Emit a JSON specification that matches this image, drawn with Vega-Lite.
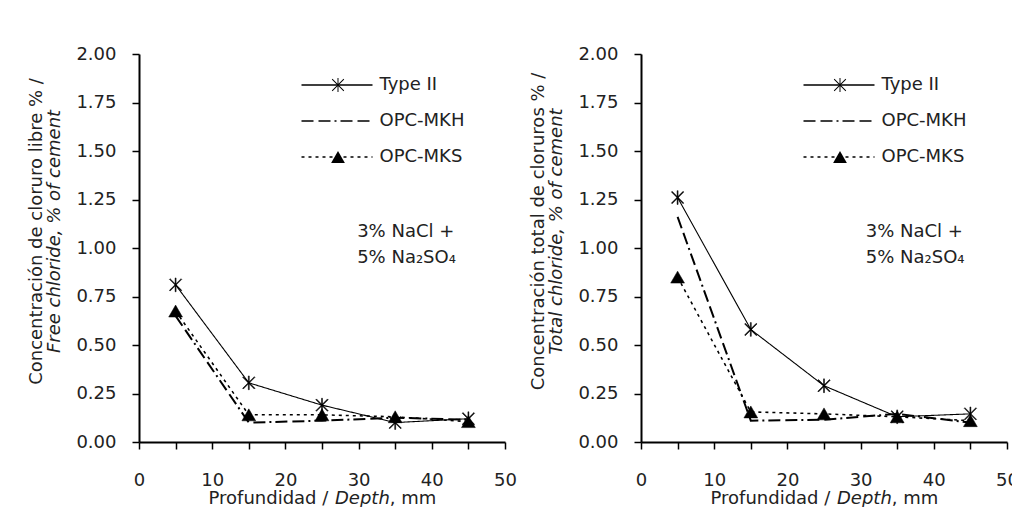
{
  "$schema": "https://vega.github.io/schema/vega-lite/v6.json",
  "autosize": {"type": "pad"},
  "padding": {"left": 26, "top": 45, "right": 0, "bottom": 0},
  "spacing": 11,
  "background": "white",
  "config": {
    "font": "DejaVu Sans",
    "view": {"stroke": null},
    "axis": {
      "grid": false,
      "domainColor": "black",
      "domainWidth": 2,
      "tickColor": "black",
      "tickWidth": 1.5,
      "tickSize": 7,
      "labelFont": "DejaVu Sans",
      "labelFontSize": 18,
      "labelColor": "#222",
      "titleFont": "DejaVu Sans",
      "titleFontSize": 18,
      "titleColor": "#222",
      "titleFontWeight": "normal"
    },
    "legend": {"labelFont": "DejaVu Sans", "labelFontSize": 18, "labelColor": "#222"}
  },
  "datasets": {
    "free": [
      {"series": "Type II", "depth": 5, "value": 0.81},
      {"series": "Type II", "depth": 15, "value": 0.305},
      {"series": "Type II", "depth": 25, "value": 0.19},
      {"series": "Type II", "depth": 35, "value": 0.10},
      {"series": "Type II", "depth": 45, "value": 0.12},
      {"series": "OPC-MKH", "depth": 5, "value": 0.65},
      {"series": "OPC-MKH", "depth": 15, "value": 0.10},
      {"series": "OPC-MKH", "depth": 25, "value": 0.11},
      {"series": "OPC-MKH", "depth": 35, "value": 0.125},
      {"series": "OPC-MKH", "depth": 45, "value": 0.115},
      {"series": "OPC-MKS", "depth": 5, "value": 0.675},
      {"series": "OPC-MKS", "depth": 15, "value": 0.14},
      {"series": "OPC-MKS", "depth": 25, "value": 0.14},
      {"series": "OPC-MKS", "depth": 35, "value": 0.13},
      {"series": "OPC-MKS", "depth": 45, "value": 0.105}
    ],
    "total": [
      {"series": "Type II", "depth": 5, "value": 1.26},
      {"series": "Type II", "depth": 15, "value": 0.58},
      {"series": "Type II", "depth": 25, "value": 0.29},
      {"series": "Type II", "depth": 35, "value": 0.13},
      {"series": "Type II", "depth": 45, "value": 0.145},
      {"series": "OPC-MKH", "depth": 5, "value": 1.16},
      {"series": "OPC-MKH", "depth": 15, "value": 0.11},
      {"series": "OPC-MKH", "depth": 25, "value": 0.115},
      {"series": "OPC-MKH", "depth": 35, "value": 0.145},
      {"series": "OPC-MKH", "depth": 45, "value": 0.10},
      {"series": "OPC-MKS", "depth": 5, "value": 0.85},
      {"series": "OPC-MKS", "depth": 15, "value": 0.155},
      {"series": "OPC-MKS", "depth": 25, "value": 0.145},
      {"series": "OPC-MKS", "depth": 35, "value": 0.13},
      {"series": "OPC-MKS", "depth": 45, "value": 0.11}
    ]
  },
  "hconcat": [
    {
      "width": 366,
      "height": 388,
      "data": {"name": "free"},
      "resolve": {"axis": {"x": "independent", "y": "independent"}},
      "layer": [
        {
          "mark": {"type": "line", "color": "black"},
          "encoding": {
            "x": {"field": "depth", "type": "quantitative", "scale": {"domain": [0, 50], "nice": false, "zero": false},
              "axis": {"values": [0, 5, 10, 15, 20, 25, 30, 35, 40, 45, 50], "labelExpr": "datum.value % 10 === 0 ? datum.label : ''", "labelPadding": 22, "labelFlush": false, "labelOverlap": false,
                "title": "Profundidad /", "titleX": 69, "titleY": 61, "titleAlign": "left", "titleBaseline": "alphabetic"}},
            "y": {"field": "value", "type": "quantitative", "scale": {"domain": [0, 2], "nice": false},
              "axis": {"values": [0, 0.25, 0.5, 0.75, 1, 1.25, 1.5, 1.75, 2], "format": ".2f", "labelPadding": 16, "labelFlush": false, "labelOverlap": false,
                "title": "Free chloride, % of cement", "titleFontStyle": "italic", "titleX": -80, "titleY": 177, "titleAlign": "center", "titleBaseline": "alphabetic", "titleAngle": -90}},
            "strokeDash": {"field": "series", "type": "nominal", "sort": ["Type II", "OPC-MKH", "OPC-MKS"],
              "scale": {"range": [[1, 0], [12, 5, 12, 4, 2, 4], [3, 4]]},
              "legend": {"orient": "none", "legendX": 161.5, "legendY": 21, "title": null, "symbolType": "stroke", "symbolSize": 5041, "symbolStrokeColor": "black", "symbolStrokeWidth": 1.5, "labelOffset": 6, "clipHeight": 20, "rowPadding": 16}},
            "strokeWidth": {"field": "series", "type": "nominal", "sort": ["Type II", "OPC-MKS", "OPC-MKH"],
              "scale": {"type": "point", "range": [1.1, 2.0]}, "legend": null}
          }
        },
        {
          "mark": {"type": "point", "filled": true, "fill": "black", "stroke": "black", "strokeWidth": 0.5, "size": 190, "opacity": 1},
          "encoding": {
            "x": {"field": "depth", "type": "quantitative",
              "axis": {"orient": "bottom", "labels": false, "ticks": false, "domain": false, "title": "Depth", "titleFontStyle": "italic", "titleX": 195.5, "titleY": 61, "titleAlign": "left", "titleBaseline": "alphabetic"}},
            "y": {"field": "value", "type": "quantitative",
              "axis": {"orient": "left", "labels": false, "ticks": false, "domain": false, "title": "Concentración de cloruro libre % /", "titleX": -98, "titleY": 177, "titleAlign": "center", "titleBaseline": "alphabetic", "titleAngle": -90}},
            "shape": {"field": "series", "type": "nominal",
              "scale": {"domain": ["Type II", "OPC-MKH", "OPC-MKS"], "range": ["M-0.07,-1L0.07,-1L0.07,1L-0.07,1ZM-0.8,-0.9L0.9,0.8L0.8,0.9L-0.9,-0.8ZM-0.8,0.9L-0.9,0.8L0.8,-0.9L0.9,-0.8Z", "M0,0", "triangle-up"]},
              "legend": {"orient": "none", "legendX": 190, "legendY": 21, "title": null, "symbolSize": 190, "symbolFillColor": "black", "symbolStrokeColor": "black", "symbolStrokeWidth": 0.5, "clipHeight": 20, "rowPadding": 16, "labelExpr": "''"}}
          }
        },
        {
          "data": {"values": [{}]},
          "mark": {"type": "text", "align": "left", "baseline": "middle", "fontSize": 18, "color": "#222"},
          "encoding": {
            "x": {"datum": 29.8, "type": "quantitative",
              "axis": {"orient": "bottom", "labels": false, "ticks": false, "domain": false, "title": ", mm", "titleX": 250.3, "titleY": 61, "titleAlign": "left", "titleBaseline": "alphabetic"}},
            "y": {"datum": 1.083, "type": "quantitative", "axis": null},
            "text": {"value": "3% NaCl +"}
          }
        },
        {
          "data": {"values": [{}]},
          "mark": {"type": "text", "align": "left", "baseline": "middle", "fontSize": 18, "color": "#222"},
          "encoding": {
            "x": {"datum": 29.8, "type": "quantitative", "axis": null},
            "y": {"datum": 0.95, "type": "quantitative", "axis": null},
            "text": {"value": "5% Na₂SO₄"}
          }
        }
      ]
    },
    {
      "width": 366,
      "height": 388,
      "data": {"name": "total"},
      "resolve": {"axis": {"x": "independent", "y": "independent"}},
      "layer": [
        {
          "mark": {"type": "line", "color": "black"},
          "encoding": {
            "x": {"field": "depth", "type": "quantitative", "scale": {"domain": [0, 50], "nice": false, "zero": false},
              "axis": {"values": [0, 5, 10, 15, 20, 25, 30, 35, 40, 45, 50], "labelExpr": "datum.value % 10 === 0 ? datum.label : ''", "labelPadding": 22, "labelFlush": false, "labelOverlap": false,
                "title": "Profundidad /", "titleX": 69, "titleY": 61, "titleAlign": "left", "titleBaseline": "alphabetic"}},
            "y": {"field": "value", "type": "quantitative", "scale": {"domain": [0, 2], "nice": false},
              "axis": {"values": [0, 0.25, 0.5, 0.75, 1, 1.25, 1.5, 1.75, 2], "format": ".2f", "labelPadding": 16, "labelFlush": false, "labelOverlap": false,
                "title": "Total chloride, % of cement", "titleFontStyle": "italic", "titleX": -80, "titleY": 177, "titleAlign": "center", "titleBaseline": "alphabetic", "titleAngle": -90}},
            "strokeDash": {"field": "series", "type": "nominal", "sort": ["Type II", "OPC-MKH", "OPC-MKS"],
              "scale": {"range": [[1, 0], [12, 5, 12, 4, 2, 4], [3, 4]]},
              "legend": {"orient": "none", "legendX": 161.5, "legendY": 21, "title": null, "symbolType": "stroke", "symbolSize": 5041, "symbolStrokeColor": "black", "symbolStrokeWidth": 1.5, "labelOffset": 6, "clipHeight": 20, "rowPadding": 16}},
            "strokeWidth": {"field": "series", "type": "nominal", "sort": ["Type II", "OPC-MKS", "OPC-MKH"],
              "scale": {"type": "point", "range": [1.1, 2.0]}, "legend": null}
          }
        },
        {
          "mark": {"type": "point", "filled": true, "fill": "black", "stroke": "black", "strokeWidth": 0.5, "size": 190, "opacity": 1},
          "encoding": {
            "x": {"field": "depth", "type": "quantitative",
              "axis": {"orient": "bottom", "labels": false, "ticks": false, "domain": false, "title": "Depth", "titleFontStyle": "italic", "titleX": 195.5, "titleY": 61, "titleAlign": "left", "titleBaseline": "alphabetic"}},
            "y": {"field": "value", "type": "quantitative",
              "axis": {"orient": "left", "labels": false, "ticks": false, "domain": false, "title": "Concentración total de cloruros % /", "titleX": -98, "titleY": 177, "titleAlign": "center", "titleBaseline": "alphabetic", "titleAngle": -90}},
            "shape": {"field": "series", "type": "nominal",
              "scale": {"domain": ["Type II", "OPC-MKH", "OPC-MKS"], "range": ["M-0.07,-1L0.07,-1L0.07,1L-0.07,1ZM-0.8,-0.9L0.9,0.8L0.8,0.9L-0.9,-0.8ZM-0.8,0.9L-0.9,0.8L0.8,-0.9L0.9,-0.8Z", "M0,0", "triangle-up"]},
              "legend": {"orient": "none", "legendX": 190, "legendY": 21, "title": null, "symbolSize": 190, "symbolFillColor": "black", "symbolStrokeColor": "black", "symbolStrokeWidth": 0.5, "clipHeight": 20, "rowPadding": 16, "labelExpr": "''"}}
          }
        },
        {
          "data": {"values": [{}]},
          "mark": {"type": "text", "align": "left", "baseline": "middle", "fontSize": 18, "color": "#222"},
          "encoding": {
            "x": {"datum": 30.7, "type": "quantitative",
              "axis": {"orient": "bottom", "labels": false, "ticks": false, "domain": false, "title": ", mm", "titleX": 250.3, "titleY": 61, "titleAlign": "left", "titleBaseline": "alphabetic"}},
            "y": {"datum": 1.083, "type": "quantitative", "axis": null},
            "text": {"value": "3% NaCl +"}
          }
        },
        {
          "data": {"values": [{}]},
          "mark": {"type": "text", "align": "left", "baseline": "middle", "fontSize": 18, "color": "#222"},
          "encoding": {
            "x": {"datum": 30.7, "type": "quantitative", "axis": null},
            "y": {"datum": 0.95, "type": "quantitative", "axis": null},
            "text": {"value": "5% Na₂SO₄"}
          }
        }
      ]
    }
  ],
  "resolve": {
    "scale": {"x": "independent", "y": "independent", "strokeDash": "independent", "shape": "independent", "strokeWidth": "independent"},
    "legend": {"strokeDash": "independent", "shape": "independent"}
  }
}
